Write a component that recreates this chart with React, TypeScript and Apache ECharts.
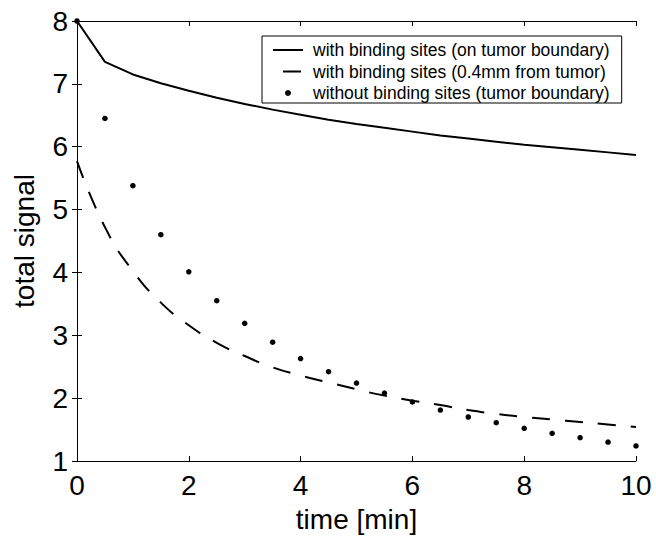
import React, { useEffect, useRef } from "react";
import * as echarts from "echarts";

const timeValues = [0, 0.5, 1, 1.5, 2, 2.5, 3, 3.5, 4, 4.5, 5, 5.5, 6, 6.5, 7, 7.5, 8, 8.5, 9, 9.5, 10];
const withBindingBoundary = [8.0, 7.35, 7.15, 7.01, 6.89, 6.78, 6.68, 6.59, 6.51, 6.43, 6.36, 6.3, 6.24, 6.18, 6.13, 6.08, 6.03, 5.99, 5.95, 5.91, 5.87];
const withBinding04mm = [5.77, 4.72, 4.02, 3.52, 3.16, 2.88, 2.67, 2.49, 2.36, 2.25, 2.14, 2.04, 1.96, 1.89, 1.81, 1.75, 1.7, 1.66, 1.62, 1.58, 1.54];
const withoutBinding = [8.0, 6.45, 5.38, 4.6, 4.01, 3.55, 3.19, 2.89, 2.63, 2.42, 2.24, 2.08, 1.94, 1.81, 1.7, 1.61, 1.52, 1.44, 1.37, 1.3, 1.24];
const seriesNames = [
  "with binding sites (on tumor boundary)",
  "with binding sites (0.4mm from tumor)",
  "without binding sites (tumor boundary)",
];
const xAxisName = "time [min]";
const yAxisName = "total signal";

const FONT = "'Liberation Sans', Arial, Helvetica, sans-serif";

export default function App() {
  const ref = useRef<HTMLDivElement>(null);
  useEffect(() => {
    if (!ref.current) return;
    const chart = echarts.init(ref.current, undefined, { renderer: "svg" });
    const pair = (ys: number[]) => timeValues.map((t, i) => [t, ys[i]]);
    const axisCommon = {
      type: "value" as const,
      axisLine: { show: true, lineStyle: { color: "#000", width: 1 } },
      axisTick: { show: true, inside: true, length: 5, lineStyle: { color: "#000" } },
      splitLine: { show: false },
    };
    chart.setOption({
      animation: false,
      backgroundColor: "#fff",
      grid: { left: 77, top: 21, right: 20, bottom: 76, containLabel: false },
      xAxis: [
        {
          ...axisCommon,
          min: 0,
          max: 10,
          interval: 2,
          position: "bottom",
          axisLabel: { color: "#000", fontSize: 28, fontFamily: FONT, margin: 10 },
          name: xAxisName,
          nameLocation: "middle",
          nameGap: 44,
          nameTextStyle: { color: "#000", fontSize: 28, fontFamily: FONT },
        },
        {
          ...axisCommon,
          min: 0,
          max: 10,
          interval: 2,
          position: "top",
          axisLabel: { show: false },
        },
      ],
      yAxis: [
        {
          ...axisCommon,
          min: 1,
          max: 8,
          interval: 1,
          position: "left",
          axisLabel: { color: "#000", fontSize: 28, fontFamily: FONT, margin: 9 },
          name: yAxisName,
          nameLocation: "middle",
          nameGap: 39,
          nameTextStyle: { color: "#000", fontSize: 28, fontFamily: FONT },
        },
        {
          ...axisCommon,
          min: 1,
          max: 8,
          interval: 1,
          position: "right",
          axisLabel: { show: false },
        },
      ],
      legend: {
        orient: "vertical",
        left: 262,
        top: 36,
        itemWidth: 30,
        itemHeight: 6,
        itemGap: 3.5,
        padding: [5, 12, 1, 10],
        borderColor: "#000",
        borderWidth: 1,
        backgroundColor: "#fff",
        textStyle: { color: "#000", fontSize: 17.5, fontFamily: FONT, padding: [0, 0, 0, 5] },
        data: [
          { name: seriesNames[0], itemStyle: { opacity: 0 } },
          { name: seriesNames[1], itemStyle: { opacity: 0 }, lineStyle: { type: [0, 10, 18, 100] } },
          { name: seriesNames[2], itemStyle: { opacity: 1 } },
        ],
      },
      series: [
        {
          name: seriesNames[0],
          type: "line",
          data: pair(withBindingBoundary),
          symbol: "none",
          smooth: false,
          lineStyle: { color: "#000", width: 2 },
          itemStyle: { color: "#000" },
          z: 3,
        },
        {
          name: seriesNames[1],
          type: "line",
          data: pair(withBinding04mm),
          symbol: "none",
          smooth: true,
          lineStyle: { color: "#000", width: 2, type: [18, 15] },
          itemStyle: { color: "#000" },
          z: 3,
        },
        {
          name: seriesNames[2],
          type: "scatter",
          data: pair(withoutBinding),
          symbol: "circle",
          symbolSize: 5.5,
          itemStyle: { color: "#000", opacity: 1 },
          clip: false,
          z: 4,
        },
      ],
    });
    return () => chart.dispose();
  }, []);
  return <div ref={ref} style={{ width: 656, height: 538, position: "absolute", left: 0, top: 0 }} />;
}
